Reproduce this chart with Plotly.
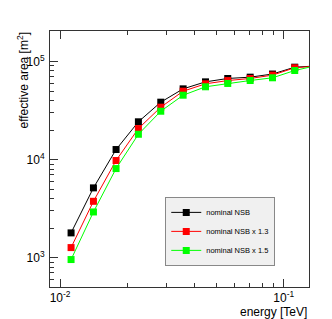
import plotly.graph_objects as go

energy = [0.0112, 0.0141, 0.0178, 0.0224, 0.0282, 0.0355, 0.0447, 0.0562, 0.0708, 0.0891, 0.112, 0.141]
area_nominal = [1786, 5140, 12650, 24260, 38460, 52600, 62000, 67100, 69200, 74500, 87500, 90100]
area_x13 = [1265, 3750, 9770, 20700, 34200, 49800, 59200, 63900, 67100, 72600, 86300, 90000]
area_x15 = [955, 2920, 8090, 18100, 31100, 45300, 55200, 59700, 64000, 68200, 80900, 91300]
series_names = ["nominal NSB", "nominal NSB x 1.3", "nominal NSB x 1.5"]
series_colors = ["#000000", "#ff0000", "#00ff00"]

x_major = [0.01, 0.1]
x_major_text = ["10<sup>-2</sup>", "10<sup>-1</sup>"]
x_minor = [0.02, 0.03, 0.04, 0.05, 0.06, 0.07, 0.08, 0.09]
y_major = [1e3, 1e4, 1e5]
y_major_text = ["10<sup>3</sup>", "10<sup>4</sup>", "10<sup>5</sup>"]
y_minor = [5e2, 6e2, 7e2, 8e2, 9e2, 2e3, 3e3, 4e3, 5e3, 6e3, 7e3, 8e3, 9e3,
           2e4, 3e4, 4e4, 5e4, 6e4, 7e4, 8e4, 9e4, 2e5]

FONT = "Liberation Sans, Arial, Helvetica, sans-serif"

fig = go.Figure()
for i, (vals, name, col) in enumerate(zip([area_nominal, area_x13, area_x15], series_names, series_colors)):
    fig.add_trace(go.Scatter(
        x=energy, y=vals, mode="lines+markers", name=name,
        legendgroup=f"g{i}",
        line=dict(color=col, width=1),
        marker=dict(symbol="square", size=7, color=col, line=dict(width=0)),
    ))

axis_common = dict(
    type="log", showgrid=False, zeroline=False,
    showline=True, linecolor="#333333", linewidth=1,
    ticks="inside", ticklen=8, tickcolor="#333333", tickwidth=1,
    tickfont=dict(family=FONT, size=12, color="#000000"),
)

fig.update_xaxes(
    **axis_common,
    range=[-2.045, -0.887],
    tickmode="array", tickvals=x_major, ticktext=x_major_text,
    mirror="ticks",
    minor=dict(tickmode="array", tickvals=x_minor, ticks="inside", ticklen=4,
               tickcolor="#333333", tickwidth=1),
)
fig.update_yaxes(
    **axis_common,
    range=[2.70, 5.311],
    tickmode="array", tickvals=y_major, ticktext=y_major_text,
    mirror=True,
    ticklabelstandoff=2,
    minor=dict(tickmode="array", tickvals=y_minor, ticks="inside", ticklen=4,
               tickcolor="#333333", tickwidth=1),
)

fig.update_layout(
    width=332, height=319,
    margin=dict(l=50, r=23, t=31, b=32),
    paper_bgcolor="white", plot_bgcolor="white",
    font=dict(family=FONT, color="#000000"),
    showlegend=True,
    legend=dict(
        x=0.445, y=0.352, xanchor="left", yanchor="top",
        bgcolor="#f0f0f0", bordercolor="#888888", borderwidth=1,
        font=dict(family=FONT, size=7.5, color="#000000"),
        tracegroupgap=0,
        itemwidth=30,
    ),
    annotations=[
        dict(text="effective area [m<sup>2</sup>]", textangle=-90,
             xref="paper", yref="paper", x=-0.104, y=1.004,
             xanchor="center", yanchor="top", showarrow=False,
             font=dict(family=FONT, size=12, color="#000000")),
        dict(text="energy [TeV]",
             xref="paper", yref="paper", x=1.0, y=-0.062,
             xanchor="right", yanchor="top", showarrow=False,
             font=dict(family=FONT, size=12, color="#000000")),
    ],
)

fig.write_html("out.html", config={"displayModeBar": False},
               post_script="document.body.style.margin='0';")
